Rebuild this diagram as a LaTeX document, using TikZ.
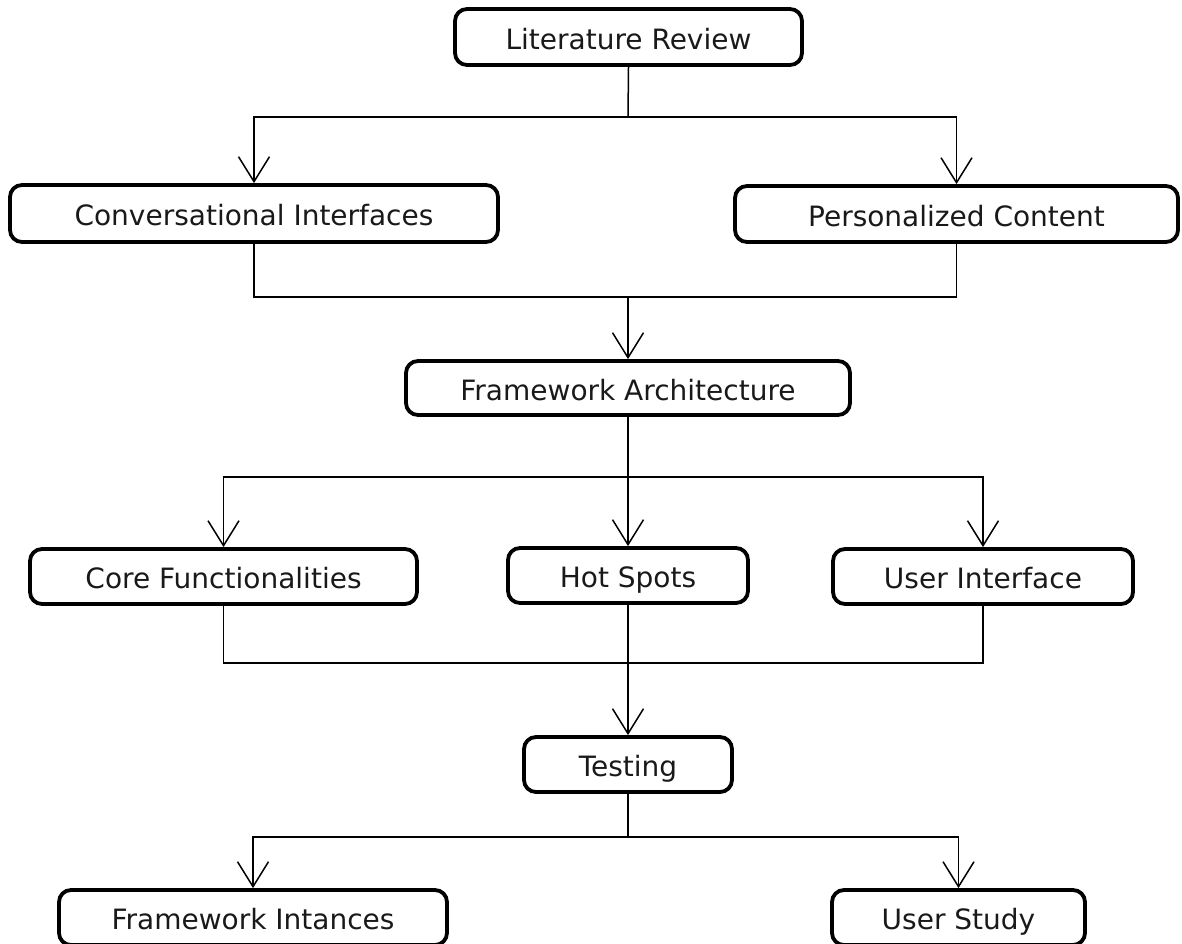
\documentclass[tikz,border=0pt]{standalone}
\usepackage{fontspec}
\setmainfont{DejaVu Sans}
\usetikzlibrary{arrows.meta}
\definecolor{ink}{rgb}{0.1,0.1,0.1}
\begin{document}
\begin{tikzpicture}[x=1pt,y=-1pt,
  stage/.style={draw=black, line width=3.8pt, rounded corners=12pt,
    inner sep=0pt, text height=24pt, text depth=0pt, text=ink,
    font=\fontsize{28}{30}\selectfont},
  link/.style={draw=black, line width=1.5pt},
  flow/.style={link, -{Straight Barb[length=25pt,width=31pt,line width=1.5pt]}}]
\useasboundingbox (0,0) rectangle (1182,943);
\clip (0,0) rectangle (1182,943);

% stages
\node[stage, minimum width=347pt, minimum height=56pt] (lit)  at (628.5,37)   {Literature Review};
\node[stage, minimum width=488pt, minimum height=57pt] (conv) at (254,213.5)  {Conversational Interfaces};
\node[stage, minimum width=443pt, minimum height=56pt] (pers) at (956.5,214)  {Personalized Content};
\node[stage, minimum width=444pt, minimum height=54pt] (arch) at (628,388)     {Framework Architecture};
\node[stage, minimum width=387pt, minimum height=55pt] (core) at (223.5,576.5){Core Functionalities};
\node[stage, minimum width=240pt, minimum height=55pt] (hot)  at (628,575.5)   {Hot Spots};
\node[stage, minimum width=300pt, minimum height=55pt] (ui)   at (983,576.5)   {User Interface};
\node[stage, minimum width=208pt, minimum height=55pt] (test) at (628,764.5)   {Testing};
\node[stage, minimum width=388pt, minimum height=55pt] (inst) at (253,917.5)   {Framework Intances};
\node[stage, minimum width=253pt, minimum height=55pt] (study) at (958.5,917.5){User Study};

% junction points of the connectors
\coordinate (j1) at (628,117);
\coordinate (j2) at (628,297);
\coordinate (j3) at (628,477);
\coordinate (j4) at (628,663);
\coordinate (j5) at (628,837);

% literature review splits into two topics
\draw[link] (lit.south) -- (j1);
\draw[flow] (j1) -| (conv.north);
\draw[flow] (j1) -| (pers.north);

% both topics merge into the architecture
\draw[link] (conv.south) |- (j2);
\draw[link] (pers.south) |- (j2);
\draw[flow] (j2) -- (arch.north);

% architecture splits into three parts
\draw[link] (arch.south) -- (j3);
\draw[flow] (j3) -| (core.north);
\draw[flow] (j3) -- (hot.north);
\draw[flow] (j3) -| (ui.north);

% three parts merge into testing
\draw[link] (core.south) |- (j4);
\draw[link] (ui.south) |- (j4);
\draw[link] (hot.south) -- (j4);
\draw[flow] (j4) -- (test.north);

% testing splits into two outcomes
\draw[link] (test.south) -- (j5);
\draw[flow] (j5) -| (inst.north);
\draw[flow] (j5) -| (study.north);
\end{tikzpicture}
\end{document}
